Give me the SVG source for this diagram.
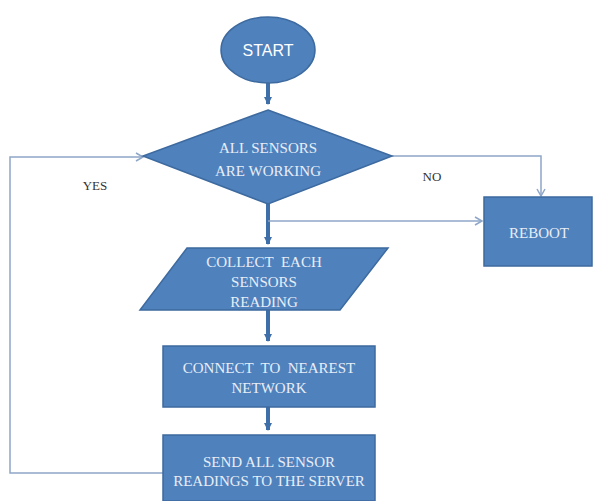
<svg xmlns="http://www.w3.org/2000/svg" width="595" height="501" viewBox="0 0 595 501">
<defs>
<style>
.shape{fill:#4f81bd;stroke:#3d6a9f;stroke-width:1.5}
.t{font-family:"Liberation Serif",serif;font-size:15px;fill:#e8eef7;text-anchor:middle;white-space:pre}
.lbl{font-family:"Liberation Serif",serif;font-size:13px;fill:#333;text-anchor:middle}
.thin{fill:none;stroke:#8ea6c8;stroke-width:1.5}
.thick{fill:none;stroke:#3f6fa8;stroke-width:4}
</style>
<marker id="ah" markerWidth="10" markerHeight="10" refX="8" refY="5" orient="auto" markerUnits="userSpaceOnUse">
<path d="M1,1 L8,5 L1,9" fill="none" stroke="#8ea6c8" stroke-width="1.5"/>
</marker>
<marker id="ahk" markerWidth="10" markerHeight="10" refX="7" refY="5" orient="auto" markerUnits="userSpaceOnUse">
<path d="M0,1 L8,5 L0,9 Z" fill="#3f6fa8"/>
</marker>
</defs>
<rect width="595" height="501" fill="#ffffff"/>
<g id="connectors">
<path class="thick" d="M268,83 V104" marker-end="url(#ahk)"/>
<path class="thick" d="M268,204 V244" marker-end="url(#ahk)"/>
<path class="thick" d="M268,310 V341" marker-end="url(#ahk)"/>
<path class="thick" d="M268,407 V430" marker-end="url(#ahk)"/>
<path class="thin" d="M268,221 H482" marker-end="url(#ah)"/>
<path class="thin" d="M392,156 H541 V196" marker-end="url(#ah)"/>
<path class="thin" d="M164,473 H10 V157 H143" marker-end="url(#ah)"/>
</g>
<g id="start">
<ellipse class="shape" cx="268" cy="50" rx="47" ry="33"/>
<text x="268" y="56" font-family="Liberation Sans, sans-serif" font-size="16" fill="#ffffff" text-anchor="middle">START</text>
</g>
<g id="decision">
<polygon class="shape" points="268,110 392,156 268,204 143,156"/>
<text class="t" x="268" y="153">ALL SENSORS</text>
<text class="t" x="268" y="176">ARE WORKING</text>
</g>
<g id="reboot">
<rect class="shape" x="484" y="197" width="108" height="69"/>
<text class="t" x="539" y="238">REBOOT</text>
</g>
<g id="collect">
<polygon class="shape" points="187,248 388,248 340,310 140,310"/>
<text class="t" x="264" y="267">COLLECT  EACH</text>
<text class="t" x="264" y="287">SENSORS</text>
<text class="t" x="264" y="307">READING</text>
</g>
<g id="connect">
<rect class="shape" x="163" y="346" width="212" height="61"/>
<text class="t" x="269" y="373">CONNECT  TO  NEAREST</text>
<text class="t" x="269" y="393">NETWORK</text>
</g>
<g id="send">
<rect class="shape" x="163" y="435" width="212" height="66"/>
<text class="t" x="269" y="467">SEND ALL SENSOR</text>
<text class="t" x="269" y="486">READINGS TO THE SERVER</text>
</g>
<text class="lbl" x="95" y="190">YES</text>
<text class="lbl" x="432" y="181">NO</text>
</svg>
